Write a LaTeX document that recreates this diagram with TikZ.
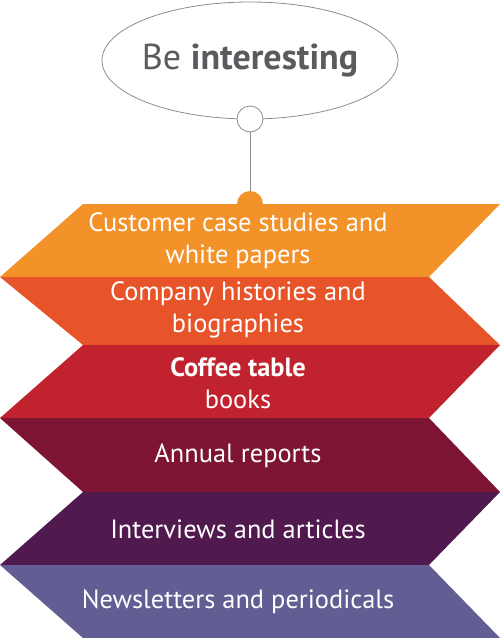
\documentclass[tikz,border=0pt]{standalone}
\usepackage{fontspec}
\setmainfont{PT Sans}
\usetikzlibrary{shapes.geometric}

\definecolor{bandorange}{RGB}{243,146,40}
\definecolor{bandflame}{RGB}{232,84,42}
\definecolor{bandred}{RGB}{193,35,46}
\definecolor{bandwine}{RGB}{125,20,52}
\definecolor{bandplum}{RGB}{81,26,79}
\definecolor{bandlilac}{RGB}{98,94,147}
\definecolor{linegray}{RGB}{140,140,140}
\definecolor{titlegray}{RGB}{90,90,95}

\tikzset{
  bandtext/.style={text=white, align=center, font=\fontsize{26.4}{32}\selectfont},
  ring/.style={circle, draw=linegray, line width=0.8pt, fill=white, minimum size=26pt, inner sep=0pt}
}

\begin{document}
\begin{tikzpicture}[x=1pt,y=-1pt]

\useasboundingbox (0,0) rectangle (500,638);

% Bands
\fill[bandorange] (83,204) -- (500,204) -- (429,277) -- (0,277) -- cycle;
\fill[bandflame] (0,277) -- (429,277) -- (500,345) -- (83,345) -- cycle;
\fill[bandred] (83,345) -- (500,345) -- (429,418) -- (0,418) -- cycle;
\fill[bandwine] (0,418) -- (429,418) -- (500,492) -- (83,492) -- cycle;
\fill[bandplum] (83,492) -- (500,492) -- (429,565) -- (0,565) -- cycle;
\fill[bandlilac] (0,565) -- (429,565) -- (500,638) -- (83,638) -- cycle;

% Title bubble
\node[ellipse, draw=linegray, line width=0.8pt, minimum width=296pt, minimum height=117pt,
  inner sep=0pt] (bubble) at (250,60.5) {};
\node[text=titlegray, font=\fontsize{36}{40}\selectfont] (title) at (bubble) {Be \textbf{interesting}};

% Knob, tab and stem
\node[ring] (knob) at (250,119) {};
\node[circle, fill=bandorange, minimum size=26pt, inner sep=0pt] (tab) at (250,204) {};
\draw[linegray, line width=1pt] (knob) -- (tab);

% Labels
\node[bandtext] (studies) at (238,241) {Customer case studies and\\white papers};
\node[bandtext] (histories) at (238,310) {Company histories and\\biographies};
\node[bandtext] (coffee) at (238,383) {\textbf{Coffee table}\\books};
\node[bandtext] (reports) at (238,456) {Annual reports};
\node[bandtext] (interviews) at (238,529) {Interviews and articles};
\node[bandtext] (newsletters) at (238,602) {Newsletters and periodicals};

\end{tikzpicture}
\end{document}
